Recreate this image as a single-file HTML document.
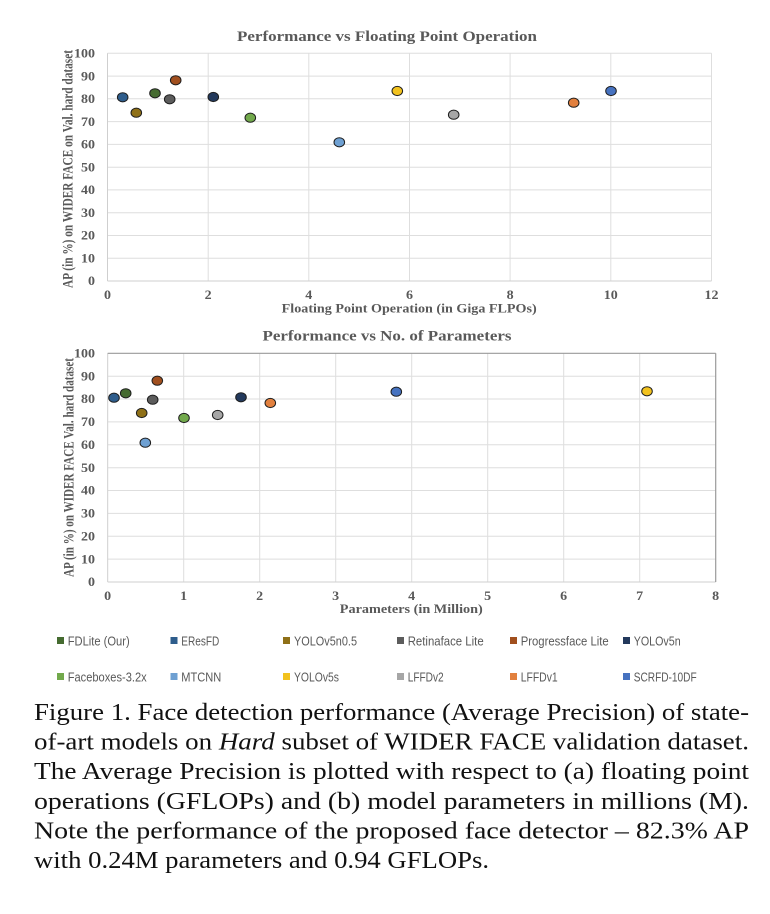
<!DOCTYPE html>
<html><head><meta charset="utf-8"><style>
html,body{margin:0;padding:0;background:#fff;}
svg{display:block;}
</style></head><body>
<svg width="770" height="914" viewBox="0 0 770 914" xmlns="http://www.w3.org/2000/svg">
<rect width="770" height="914" fill="#fff"/>
<g font-family="'Liberation Serif', serif" font-weight="bold" fill="#595959">
<!-- TOP CHART -->
<text x="387" y="41" font-size="15" text-anchor="middle" textLength="300" lengthAdjust="spacingAndGlyphs">Performance vs Floating Point Operation</text>
<g stroke="#dedede" stroke-width="1">
<line x1="107.5" y1="53.3" x2="711.5" y2="53.3"/>
<line x1="107.5" y1="76.1" x2="711.5" y2="76.1"/>
<line x1="107.5" y1="98.8" x2="711.5" y2="98.8"/>
<line x1="107.5" y1="121.6" x2="711.5" y2="121.6"/>
<line x1="107.5" y1="144.4" x2="711.5" y2="144.4"/>
<line x1="107.5" y1="167.2" x2="711.5" y2="167.2"/>
<line x1="107.5" y1="189.9" x2="711.5" y2="189.9"/>
<line x1="107.5" y1="212.7" x2="711.5" y2="212.7"/>
<line x1="107.5" y1="235.5" x2="711.5" y2="235.5"/>
<line x1="107.5" y1="258.2" x2="711.5" y2="258.2"/>
<line x1="208.2" y1="53.3" x2="208.2" y2="281"/>
<line x1="308.8" y1="53.3" x2="308.8" y2="281"/>
<line x1="409.5" y1="53.3" x2="409.5" y2="281"/>
<line x1="510.1" y1="53.3" x2="510.1" y2="281"/>
<line x1="610.8" y1="53.3" x2="610.8" y2="281"/>
<line x1="711.5" y1="53.3" x2="711.5" y2="281"/>
</g>
<g stroke="#cfcfcf" stroke-width="1">
<line x1="107.5" y1="53.3" x2="107.5" y2="281"/>
<line x1="107.5" y1="281" x2="711.5" y2="281"/>
</g>
<g font-size="12.5" text-anchor="end">
<text x="95" y="57.5" textLength="21" lengthAdjust="spacingAndGlyphs">100</text>
<text x="95" y="80.3" textLength="14" lengthAdjust="spacingAndGlyphs">90</text>
<text x="95" y="103" textLength="14" lengthAdjust="spacingAndGlyphs">80</text>
<text x="95" y="125.8" textLength="14" lengthAdjust="spacingAndGlyphs">70</text>
<text x="95" y="148.6" textLength="14" lengthAdjust="spacingAndGlyphs">60</text>
<text x="95" y="171.4" textLength="14" lengthAdjust="spacingAndGlyphs">50</text>
<text x="95" y="194.1" textLength="14" lengthAdjust="spacingAndGlyphs">40</text>
<text x="95" y="216.9" textLength="14" lengthAdjust="spacingAndGlyphs">30</text>
<text x="95" y="239.7" textLength="14" lengthAdjust="spacingAndGlyphs">20</text>
<text x="95" y="262.4" textLength="14" lengthAdjust="spacingAndGlyphs">10</text>
<text x="95" y="285.2" textLength="7" lengthAdjust="spacingAndGlyphs">0</text>
</g>
<g font-size="12.5" text-anchor="middle">
<text x="107.5" y="299" textLength="7" lengthAdjust="spacingAndGlyphs">0</text>
<text x="208.2" y="299" textLength="7" lengthAdjust="spacingAndGlyphs">2</text>
<text x="308.8" y="299" textLength="7" lengthAdjust="spacingAndGlyphs">4</text>
<text x="409.5" y="299" textLength="7" lengthAdjust="spacingAndGlyphs">6</text>
<text x="510.1" y="299" textLength="7" lengthAdjust="spacingAndGlyphs">8</text>
<text x="610.8" y="299" textLength="14" lengthAdjust="spacingAndGlyphs">10</text>
<text x="711.5" y="299" textLength="14" lengthAdjust="spacingAndGlyphs">12</text>
</g>
<text x="409.2" y="312.5" font-size="13" text-anchor="middle" textLength="255" lengthAdjust="spacingAndGlyphs">Floating Point Operation (in Giga FLPOs)</text>
<text transform="translate(72.5,169) rotate(-90)" font-size="15" text-anchor="middle" textLength="238" lengthAdjust="spacingAndGlyphs">AP (in %) on WIDER FACE on Val. hard dataset</text>

<!-- BOTTOM CHART -->
<text x="387" y="340.5" font-size="15" text-anchor="middle" textLength="249" lengthAdjust="spacingAndGlyphs">Performance vs No. of Parameters</text>
<g stroke="#dedede" stroke-width="1">
<line x1="107.7" y1="376.2" x2="715.7" y2="376.2"/>
<line x1="107.7" y1="399.0" x2="715.7" y2="399.0"/>
<line x1="107.7" y1="421.9" x2="715.7" y2="421.9"/>
<line x1="107.7" y1="444.8" x2="715.7" y2="444.8"/>
<line x1="107.7" y1="467.7" x2="715.7" y2="467.7"/>
<line x1="107.7" y1="490.5" x2="715.7" y2="490.5"/>
<line x1="107.7" y1="513.4" x2="715.7" y2="513.4"/>
<line x1="107.7" y1="536.3" x2="715.7" y2="536.3"/>
<line x1="107.7" y1="559.1" x2="715.7" y2="559.1"/>
<line x1="183.7" y1="353.3" x2="183.7" y2="582"/>
<line x1="259.7" y1="353.3" x2="259.7" y2="582"/>
<line x1="335.7" y1="353.3" x2="335.7" y2="582"/>
<line x1="411.7" y1="353.3" x2="411.7" y2="582"/>
<line x1="487.7" y1="353.3" x2="487.7" y2="582"/>
<line x1="563.7" y1="353.3" x2="563.7" y2="582"/>
<line x1="639.7" y1="353.3" x2="639.7" y2="582"/>
</g>
<g stroke="#cfcfcf" stroke-width="1">
<line x1="107.7" y1="353.3" x2="107.7" y2="582"/>
<line x1="107.7" y1="582" x2="715.7" y2="582"/>
</g>
<g stroke="#9a9a9a" stroke-width="1.2" fill="none">
<line x1="107.7" y1="353.3" x2="715.7" y2="353.3"/>
<line x1="715.7" y1="353.3" x2="715.7" y2="582"/>
</g>
<g font-size="12.5" text-anchor="end">
<text x="95" y="357.5" textLength="21" lengthAdjust="spacingAndGlyphs">100</text>
<text x="95" y="380.4" textLength="14" lengthAdjust="spacingAndGlyphs">90</text>
<text x="95" y="403.2" textLength="14" lengthAdjust="spacingAndGlyphs">80</text>
<text x="95" y="426.1" textLength="14" lengthAdjust="spacingAndGlyphs">70</text>
<text x="95" y="449" textLength="14" lengthAdjust="spacingAndGlyphs">60</text>
<text x="95" y="471.9" textLength="14" lengthAdjust="spacingAndGlyphs">50</text>
<text x="95" y="494.7" textLength="14" lengthAdjust="spacingAndGlyphs">40</text>
<text x="95" y="517.6" textLength="14" lengthAdjust="spacingAndGlyphs">30</text>
<text x="95" y="540.5" textLength="14" lengthAdjust="spacingAndGlyphs">20</text>
<text x="95" y="563.3" textLength="14" lengthAdjust="spacingAndGlyphs">10</text>
<text x="95" y="586.2" textLength="7" lengthAdjust="spacingAndGlyphs">0</text>
</g>
<g font-size="12.5" text-anchor="middle">
<text x="107.7" y="600" textLength="7" lengthAdjust="spacingAndGlyphs">0</text>
<text x="183.7" y="600" textLength="7" lengthAdjust="spacingAndGlyphs">1</text>
<text x="259.7" y="600" textLength="7" lengthAdjust="spacingAndGlyphs">2</text>
<text x="335.7" y="600" textLength="7" lengthAdjust="spacingAndGlyphs">3</text>
<text x="411.7" y="600" textLength="7" lengthAdjust="spacingAndGlyphs">4</text>
<text x="487.7" y="600" textLength="7" lengthAdjust="spacingAndGlyphs">5</text>
<text x="563.7" y="600" textLength="7" lengthAdjust="spacingAndGlyphs">6</text>
<text x="639.7" y="600" textLength="7" lengthAdjust="spacingAndGlyphs">7</text>
<text x="715.7" y="600" textLength="7" lengthAdjust="spacingAndGlyphs">8</text>
</g>
<text x="411.3" y="613" font-size="13" text-anchor="middle" textLength="143" lengthAdjust="spacingAndGlyphs">Parameters (in Million)</text>
<text transform="translate(73.5,467.5) rotate(-90)" font-size="15" text-anchor="middle" textLength="219" lengthAdjust="spacingAndGlyphs">AP (in %) on WIDER FACE Val. hard dataset</text>
</g>

<!-- markers top -->
<g stroke="#1e1e1e" stroke-width="1">
<ellipse cx="122.7" cy="97.3" rx="5.3" ry="4.6" fill="#2e5d8c"/>
<ellipse cx="136.3" cy="112.7" rx="5.3" ry="4.6" fill="#8f7017"/>
<ellipse cx="155" cy="93.3" rx="5.3" ry="4.6" fill="#456b30"/>
<ellipse cx="169.7" cy="99.3" rx="5.3" ry="4.6" fill="#5c5c5c"/>
<ellipse cx="175.7" cy="80.3" rx="5.3" ry="4.6" fill="#a14f1e"/>
<ellipse cx="213.3" cy="97" rx="5.3" ry="4.6" fill="#23395c"/>
<ellipse cx="250.3" cy="117.7" rx="5.3" ry="4.6" fill="#72a94c"/>
<ellipse cx="339.3" cy="142.3" rx="5.3" ry="4.6" fill="#6ea0d2"/>
<ellipse cx="397.3" cy="91" rx="5.3" ry="4.6" fill="#f2c21e"/>
<ellipse cx="453.7" cy="114.7" rx="5.3" ry="4.6" fill="#a6a6a6"/>
<ellipse cx="573.7" cy="102.7" rx="5.3" ry="4.6" fill="#e2803e"/>
<ellipse cx="611" cy="91" rx="5.3" ry="4.6" fill="#4672c0"/>
</g>
<!-- markers bottom -->
<g stroke="#1e1e1e" stroke-width="1">
<ellipse cx="114" cy="397.7" rx="5.3" ry="4.6" fill="#2e5d8c"/>
<ellipse cx="141.7" cy="413" rx="5.3" ry="4.6" fill="#8f7017"/>
<ellipse cx="125.7" cy="393.3" rx="5.3" ry="4.6" fill="#456b30"/>
<ellipse cx="152.7" cy="399.7" rx="5.3" ry="4.6" fill="#5c5c5c"/>
<ellipse cx="157.3" cy="380.7" rx="5.3" ry="4.6" fill="#a14f1e"/>
<ellipse cx="241" cy="397.3" rx="5.3" ry="4.6" fill="#23395c"/>
<ellipse cx="184" cy="418" rx="5.3" ry="4.6" fill="#72a94c"/>
<ellipse cx="145.3" cy="442.7" rx="5.3" ry="4.6" fill="#6ea0d2"/>
<ellipse cx="647" cy="391.3" rx="5.3" ry="4.6" fill="#f2c21e"/>
<ellipse cx="217.7" cy="415" rx="5.3" ry="4.6" fill="#a6a6a6"/>
<ellipse cx="270.3" cy="403" rx="5.3" ry="4.6" fill="#e2803e"/>
<ellipse cx="396.3" cy="391.7" rx="5.3" ry="4.6" fill="#4672c0"/>
</g>

<!-- legend -->
<g font-family="'Liberation Sans', sans-serif" font-size="13" fill="#595959">
<rect x="57" y="637" width="7" height="7" fill="#456b30"/>
<text x="67.7" y="645.5" textLength="62" lengthAdjust="spacingAndGlyphs">FDLite (Our)</text>
<rect x="170.5" y="637" width="7" height="7" fill="#2e5d8c"/>
<text x="181.3" y="645.5" textLength="38" lengthAdjust="spacingAndGlyphs">EResFD</text>
<rect x="283" y="637" width="7" height="7" fill="#8f7017"/>
<text x="294" y="645.5" textLength="63" lengthAdjust="spacingAndGlyphs">YOLOv5n0.5</text>
<rect x="397" y="637" width="7" height="7" fill="#5c5c5c"/>
<text x="407.7" y="645.5" textLength="76" lengthAdjust="spacingAndGlyphs">Retinaface Lite</text>
<rect x="510" y="637" width="7" height="7" fill="#a14f1e"/>
<text x="520.7" y="645.5" textLength="88" lengthAdjust="spacingAndGlyphs">Progressface Lite</text>
<rect x="623" y="637" width="7" height="7" fill="#23395c"/>
<text x="633.7" y="645.5" textLength="47" lengthAdjust="spacingAndGlyphs">YOLOv5n</text>

<rect x="57" y="673" width="7" height="7" fill="#72a94c"/>
<text x="67.7" y="681.5" textLength="79" lengthAdjust="spacingAndGlyphs">Faceboxes-3.2x</text>
<rect x="170.5" y="673" width="7" height="7" fill="#6ea0d2"/>
<text x="181.3" y="681.5" textLength="40" lengthAdjust="spacingAndGlyphs">MTCNN</text>
<rect x="283" y="673" width="7" height="7" fill="#f2c21e"/>
<text x="294" y="681.5" textLength="45" lengthAdjust="spacingAndGlyphs">YOLOv5s</text>
<rect x="397" y="673" width="7" height="7" fill="#a6a6a6"/>
<text x="407.7" y="681.5" textLength="36" lengthAdjust="spacingAndGlyphs">LFFDv2</text>
<rect x="510" y="673" width="7" height="7" fill="#e2803e"/>
<text x="520.7" y="681.5" textLength="37" lengthAdjust="spacingAndGlyphs">LFFDv1</text>
<rect x="623" y="673" width="7" height="7" fill="#4672c0"/>
<text x="633.7" y="681.5" textLength="63" lengthAdjust="spacingAndGlyphs">SCRFD-10DF</text>
</g>

<!-- caption -->
<g font-family="'Liberation Serif', serif" font-size="24" fill="#111">
<text x="34" y="720" textLength="715" lengthAdjust="spacingAndGlyphs">Figure 1. Face detection performance (Average Precision) of state-</text>
<text x="34" y="749.6" textLength="715" lengthAdjust="spacingAndGlyphs">of-art models on <tspan font-style="italic">Hard</tspan> subset of WIDER FACE validation dataset.</text>
<text x="34" y="779.2" textLength="715" lengthAdjust="spacingAndGlyphs">The Average Precision is plotted with respect to (a) floating point</text>
<text x="34" y="808.8" textLength="715" lengthAdjust="spacingAndGlyphs">operations (GFLOPs) and (b) model parameters in millions (M).</text>
<text x="34" y="838.4" textLength="715" lengthAdjust="spacingAndGlyphs">Note the performance of the proposed face detector – 82.3% AP</text>
<text x="34" y="868" textLength="455" lengthAdjust="spacingAndGlyphs">with 0.24M parameters and 0.94 GFLOPs.</text>
</g>
</svg>
</body></html>
